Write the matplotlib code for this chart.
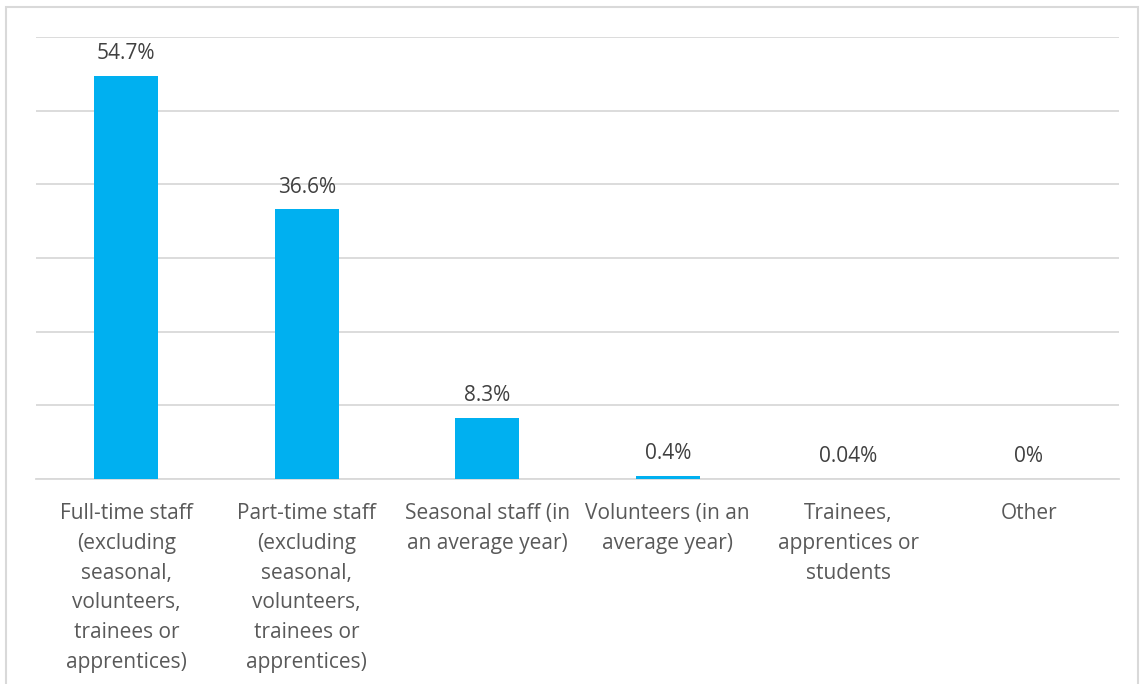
import matplotlib
matplotlib.use("Agg")
import matplotlib.pyplot as plt
from matplotlib.patches import Rectangle

categories = [
    "Full-time staff\n(excluding\nseasonal,\nvolunteers,\ntrainees or\napprentices)",
    "Part-time staff\n(excluding\nseasonal,\nvolunteers,\ntrainees or\napprentices)",
    "Seasonal staff (in\nan average year)",
    "Volunteers (in an\naverage year)",
    "Trainees,\napprentices or\nstudents",
    "Other",
]
values = [54.7, 36.6, 8.3, 0.4, 0.04, 0.0]
value_labels = ["54.7%", "36.6%", "8.3%", "0.4%", "0.04%", "0%"]

plt.rcParams['font.family'] = ['Open Sans', 'DejaVu Sans']

W, H = 1140, 684
fig = plt.figure(figsize=(W / 100, H / 100), dpi=100)
fig.patches.append(Rectangle((6 / W, -0.1), (1138 - 6) / W, 1.1 - 7 / H,
                             transform=fig.transFigure, fill=False,
                             edgecolor='#d9d9d9', linewidth=1.5))

ax = fig.add_axes([36 / W, 1 - 479 / H, (1119 - 36) / W, (479 - 37) / H])
x = range(len(categories))
bars = ax.bar(x, values, width=0.355, color='#00b0f0', zorder=3)
ax.set_xlim(-0.5, len(categories) - 0.5)
ax.set_ylim(0, 60)
ax.set_yticks(range(0, 61, 10))
ax.yaxis.grid(True, color='#d9d9d9', linewidth=1.3, zorder=0)
ax.tick_params(axis='y', left=False, labelleft=False)
ax.tick_params(axis='x', length=0, pad=17)
for s in ['top', 'right', 'left']:
    ax.spines[s].set_visible(False)
ax.spines['bottom'].set_color('#d9d9d9')
ax.spines['bottom'].set_linewidth(1.3)
ax.set_xticks(list(x))
ax.set_xticklabels(categories, fontsize=15, color='#595959', linespacing=1.56, va='top')

for b, lab in zip(bars, value_labels):
    ax.annotate(lab, (b.get_x() + b.get_width() / 2, b.get_height()),
                xytext=(0, 8.5), textcoords='offset points', ha='center', va='bottom',
                fontsize=15, color='#404040')

fig.savefig("out.png", dpi=100)
